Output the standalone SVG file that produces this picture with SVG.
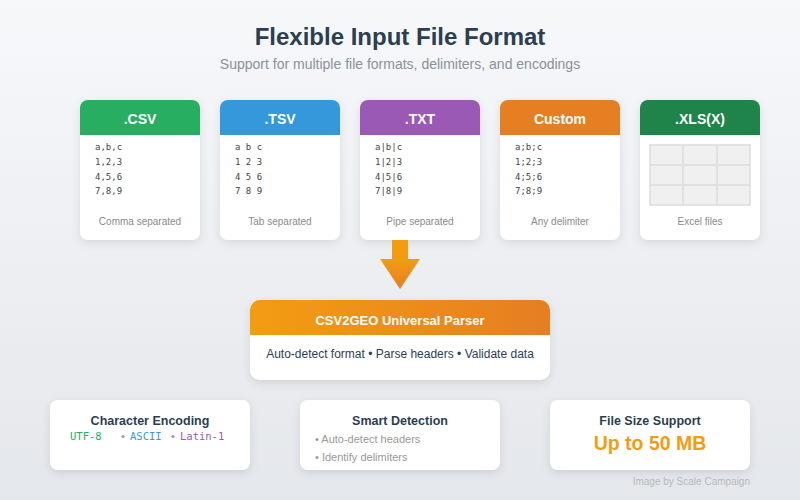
<svg xmlns="http://www.w3.org/2000/svg" width="800" height="500" viewBox="0 0 800 500">
<defs>
<linearGradient id="bg" x1="0" y1="0" x2="0" y2="1"><stop offset="0" stop-color="#f6f8fa"/><stop offset="1" stop-color="#e4e7eb"/></linearGradient>
<linearGradient id="org" x1="0" y1="0" x2="1" y2="0"><stop offset="0" stop-color="#f39c12"/><stop offset="1" stop-color="#e67e22"/></linearGradient>
<linearGradient id="orgv" x1="0" y1="0" x2="0" y2="1"><stop offset="0" stop-color="#f39c12"/><stop offset="1" stop-color="#e67e22"/></linearGradient>
<filter id="sh" x="-20%" y="-20%" width="140%" height="150%"><feDropShadow dx="0" dy="3" stdDeviation="4" flood-color="#000" flood-opacity="0.1"/></filter>
<clipPath id="c1"><rect x="80" y="100" width="120" height="140" rx="8"/></clipPath>
<clipPath id="c2"><rect x="220" y="100" width="120" height="140" rx="8"/></clipPath>
<clipPath id="c3"><rect x="360" y="100" width="120" height="140" rx="8"/></clipPath>
<clipPath id="c4"><rect x="500" y="100" width="120" height="140" rx="8"/></clipPath>
<clipPath id="c5"><rect x="640" y="100" width="120" height="140" rx="8"/></clipPath>
<clipPath id="cp"><rect x="250" y="300" width="300" height="80" rx="10"/></clipPath>
</defs>
<style>
.card{fill:#fff;filter:url(#sh)}
.hd{font-family:"Liberation Sans",Arial,sans-serif;font-weight:bold;font-size:14px;fill:#fff;text-anchor:middle}
.code{font-family:"DejaVu Sans Mono","Liberation Mono",monospace;font-size:9px;fill:#444}
.cap{font-family:"Liberation Sans",Arial,sans-serif;font-size:10px;fill:#8a8a8a;text-anchor:middle}
.bt{font-family:"Liberation Sans",Arial,sans-serif;font-weight:bold;font-size:12.5px;fill:#2c3e50;text-anchor:middle}
.sm{font-family:"Liberation Sans",Arial,sans-serif;font-size:11px;fill:#999}
.mono{font-family:"DejaVu Sans Mono","Liberation Mono",monospace;font-size:10.5px}
.grid{fill:#f0f0f0;stroke:#dcdcdc;stroke-width:1.5}
</style>
<rect width="800" height="500" fill="url(#bg)"/>
<text x="400" y="45" text-anchor="middle" font-family="Liberation Sans,Arial,sans-serif" font-weight="bold" font-size="24" fill="#2c3e50">Flexible Input File Format</text>
<text x="400" y="69" text-anchor="middle" font-family="Liberation Sans,Arial,sans-serif" font-size="14" fill="#8a9299">Support for multiple file formats, delimiters, and encodings</text>

<g id="csv">
<rect class="card" x="80" y="100" width="120" height="140" rx="8"/>
<rect x="80" y="100" width="120" height="35" fill="#27ae60" clip-path="url(#c1)"/>
<text class="hd" x="140" y="124">.CSV</text>
<text class="code" x="95" y="150">a,b,c</text><text class="code" x="95" y="165">1,2,3</text><text class="code" x="95" y="180">4,5,6</text><text class="code" x="95" y="194">7,8,9</text>
<text class="cap" x="140" y="225">Comma separated</text>
</g>
<g id="tsv">
<rect class="card" x="220" y="100" width="120" height="140" rx="8"/>
<rect x="220" y="100" width="120" height="35" fill="#3498db" clip-path="url(#c2)"/>
<text class="hd" x="280" y="124">.TSV</text>
<text class="code" x="235" y="150" xml:space="preserve">a b c</text><text class="code" x="235" y="165" xml:space="preserve">1 2 3</text><text class="code" x="235" y="180" xml:space="preserve">4 5 6</text><text class="code" x="235" y="194" xml:space="preserve">7 8 9</text>
<text class="cap" x="280" y="225">Tab separated</text>
</g>
<g id="txt">
<rect class="card" x="360" y="100" width="120" height="140" rx="8"/>
<rect x="360" y="100" width="120" height="35" fill="#9b59b6" clip-path="url(#c3)"/>
<text class="hd" x="420" y="124">.TXT</text>
<text class="code" x="375" y="150">a|b|c</text><text class="code" x="375" y="165">1|2|3</text><text class="code" x="375" y="180">4|5|6</text><text class="code" x="375" y="194">7|8|9</text>
<text class="cap" x="420" y="225">Pipe separated</text>
</g>
<g id="custom">
<rect class="card" x="500" y="100" width="120" height="140" rx="8"/>
<rect x="500" y="100" width="120" height="35" fill="#e67e22" clip-path="url(#c4)"/>
<text class="hd" x="560" y="124">Custom</text>
<text class="code" x="515" y="150">a;b;c</text><text class="code" x="515" y="165">1;2;3</text><text class="code" x="515" y="180">4;5;6</text><text class="code" x="515" y="194">7;8;9</text>
<text class="cap" x="560" y="225">Any delimiter</text>
</g>
<g id="xls">
<rect class="card" x="640" y="100" width="120" height="140" rx="8"/>
<rect x="640" y="100" width="120" height="35" fill="#1e8449" clip-path="url(#c5)"/>
<text class="hd" x="700" y="124">.XLS(X)</text>
<rect class="grid" x="650" y="145" width="100" height="60"/>
<path d="M683 145V205M717 145V205M650 165H750M650 185H750" stroke="#dcdcdc" stroke-width="1.5" fill="none"/>
<text class="cap" x="700" y="225">Excel files</text>
</g>

<g id="connectors">
<rect x="392" y="240" width="16" height="20" fill="#f39c12"/>
<polygon points="380,259 420,259 400,289" fill="url(#orgv)"/>
</g>

<g id="parser">
<rect class="card" x="250" y="300" width="300" height="80" rx="10"/>
<rect x="250" y="300" width="300" height="35" fill="url(#org)" clip-path="url(#cp)"/>
<text x="400" y="325" text-anchor="middle" font-family="Liberation Sans,Arial,sans-serif" font-weight="bold" font-size="13" fill="#fff">CSV2GEO Universal Parser</text>
<text x="400" y="358" text-anchor="middle" font-family="Liberation Sans,Arial,sans-serif" font-size="12" fill="#2c3e50">Auto-detect format • Parse headers • Validate data</text>
</g>

<g id="encoding">
<rect class="card" x="50" y="400" width="200" height="70" rx="8"/>
<text class="bt" x="150" y="425">Character Encoding</text>
<text class="mono" x="70" y="440" fill="#27ae60">UTF-8</text>
<text class="sm" x="121" y="440">•</text><text class="mono" x="130" y="440" fill="#3498db">ASCII</text>
<text class="sm" x="171" y="440">•</text><text class="mono" x="180" y="440" fill="#9b59b6">Latin-1</text>
</g>
<g id="detection">
<rect class="card" x="300" y="400" width="200" height="70" rx="8"/>
<text class="bt" x="400" y="425">Smart Detection</text>
<text class="sm" x="315" y="443">• Auto-detect headers</text>
<text class="sm" x="315" y="461">• Identify delimiters</text>
</g>
<g id="filesize">
<rect class="card" x="550" y="400" width="200" height="70" rx="8"/>
<text class="bt" x="650" y="425">File Size Support</text>
<text x="650" y="450" text-anchor="middle" font-family="Liberation Sans,Arial,sans-serif" font-weight="bold" font-size="19.5" fill="#f39c12">Up to 50 MB</text>
</g>
<text x="750" y="485" text-anchor="end" font-family="Liberation Sans,Arial,sans-serif" font-size="10" fill="#b5b9bd">Image by Scale Campaign</text>
</svg>
